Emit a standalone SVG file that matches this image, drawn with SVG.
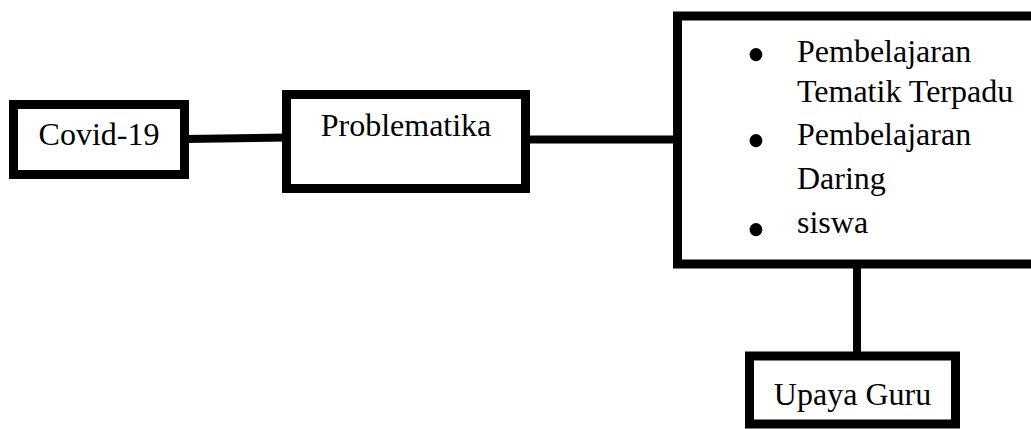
<svg xmlns="http://www.w3.org/2000/svg" width="1031" height="429" viewBox="0 0 1031 429">
<style>
.box{fill:#fff;stroke:#000;stroke-width:9}
.con{stroke:#000;stroke-width:8;fill:none}
.t{font-family:"Liberation Serif","Times New Roman",serif;font-size:32px;fill:#000}
.b{font-family:"Liberation Serif","Times New Roman",serif;font-size:54px;fill:#000;text-anchor:middle}
</style>
<rect width="1031" height="429" fill="#fff"/>
<g id="connectors">
<line class="con" x1="185" y1="139" x2="286" y2="137.5"/>
<line class="con" x1="526" y1="139.5" x2="678" y2="139.5"/>
<line class="con" x1="857" y1="247" x2="857" y2="356"/>
</g>
<g id="covid">
<rect class="box" x="13.5" y="104.5" width="171" height="70"/>
<text class="t" x="99" y="145" text-anchor="middle">Covid-19</text>
</g>
<g id="problematika">
<rect class="box" x="286.5" y="94.5" width="239" height="94"/>
<text class="t" x="406" y="136" text-anchor="middle">Problematika</text>
</g>
<g id="list">
<rect class="box" x="677.5" y="16" width="370" height="248"/>
<text class="b" x="756" y="73">•</text>
<text class="t" x="797" y="62">Pembelajaran</text>
<text class="t" x="797" y="102">Tematik Terpadu</text>
<text class="b" x="756" y="159">•</text>
<text class="t" x="797" y="145">Pembelajaran</text>
<text class="t" x="797" y="189">Daring</text>
<text class="b" x="756" y="248">•</text>
<text class="t" x="797" y="233">siswa</text>
</g>
<g id="upaya">
<rect class="box" x="749.5" y="356" width="206" height="68"/>
<text class="t" x="852.5" y="405" text-anchor="middle">Upaya Guru</text>
</g>
</svg>
